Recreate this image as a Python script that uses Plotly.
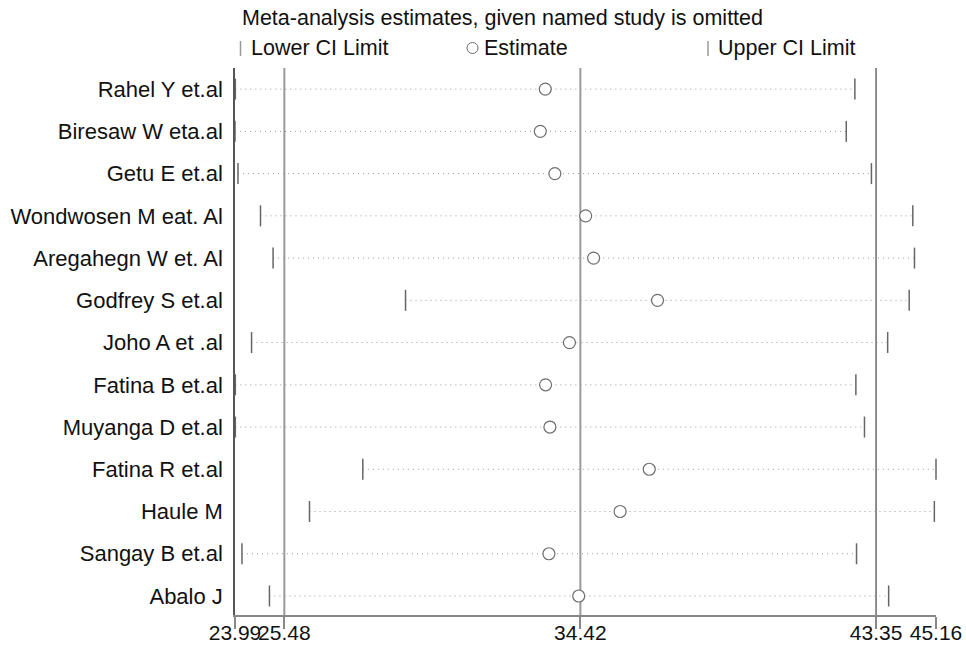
import plotly.graph_objects as go

# Leave-one-out meta-analysis: pooled estimate with each named study omitted
studies = [
    "Rahel Y et.al", "Biresaw W eta.al", "Getu E et.al", "Wondwosen M eat. Al",
    "Aregahegn W et. Al", "Godfrey S et.al", "Joho A et .al", "Fatina B et.al",
    "Muyanga D et.al", "Fatina R et.al", "Haule M", "Sangay B et.al", "Abalo J",
]
lower_ci = [24.00, 23.99, 24.08, 24.76, 25.14, 29.14, 24.49, 24.00, 24.00, 27.85, 26.24, 24.20, 25.03]
estimate = [33.36, 33.21, 33.65, 34.58, 34.82, 36.75, 34.09, 33.37, 33.50, 36.50, 35.62, 33.47, 34.37]
upper_ci = [42.71, 42.45, 43.21, 44.46, 44.51, 44.35, 43.70, 42.74, 43.00, 45.16, 45.11, 42.76, 43.73]

# Overall pooled result (all studies)
overall_lower = 25.48
overall_est = 34.42
overall_upper = 43.35

tick_vals = [min(lower_ci), overall_lower, overall_est, overall_upper, max(upper_ci)]
tick_text = ["23.99", "25.48", "34.42", "43.35", "45.16"]

FONT = "Liberation Sans, Arial, sans-serif"
W, H = 966, 649
L, R, T, B = 235, 30, 68, 34
PW, PH = W - L - R, H - T - B


def px_x(xp):
    return (xp - L) / PW


def px_y(yp):
    return (H - B - yp) / PH


fig = go.Figure()

# dotted CI lines
xs, ys = [], []
for s, lo, up in zip(studies, lower_ci, upper_ci):
    xs += [lo, up, None]
    ys += [s, s, None]
fig.add_trace(go.Scatter(
    x=xs, y=ys, mode="lines",
    line=dict(color="#9a9a9a", width=1, dash="1px,4px"),
    hoverinfo="skip", showlegend=False,
))

# CI limit ticks
fig.add_trace(go.Scatter(
    x=lower_ci, y=studies, mode="markers", name="Lower CI Limit",
    marker=dict(symbol="line-ns", size=15, line=dict(color="#666666", width=1.5)),
    cliponaxis=False, showlegend=False,
))
fig.add_trace(go.Scatter(
    x=upper_ci, y=studies, mode="markers", name="Upper CI Limit",
    marker=dict(symbol="line-ns", size=15, line=dict(color="#666666", width=1.5)),
    cliponaxis=False, showlegend=False,
))

# estimates
fig.add_trace(go.Scatter(
    x=estimate, y=studies, mode="markers", name="Estimate",
    marker=dict(symbol="circle", size=12, color="white",
                line=dict(color="#6e6e6e", width=1.2)),
    cliponaxis=False, showlegend=False,
))

# overall reference lines
for v, col, w in [(overall_lower, "#9a9a9a", 2), (overall_est, "#9a9a9a", 2), (overall_upper, "#6a6a6a", 1.5)]:
    fig.add_shape(type="line", xref="x", yref="paper", x0=v, x1=v, y0=0, y1=1,
                  line=dict(color=col, width=w), layer="below")

# title and key
fig.add_annotation(xref="paper", yref="paper", x=px_x(240), y=px_y(18),
                   xanchor="left", yanchor="middle", showarrow=False,
                   text="Meta-analysis estimates, given named study is omitted",
                   font=dict(family=FONT, size=21.5, color="#111111"))
key_y = px_y(48)
for sym_x, txt_x, label in [(240.5, 249, "Lower CI Limit"), (472.5, 482, "Estimate"), (708, 716, "Upper CI Limit")]:
    fig.add_annotation(xref="paper", yref="paper", x=px_x(txt_x), y=key_y,
                       xanchor="left", yanchor="middle", showarrow=False, text=label,
                       font=dict(family=FONT, size=21.5, color="#111111"))
    if label == "Estimate":
        fig.add_shape(type="circle", xref="paper", yref="paper",
                      x0=px_x(sym_x - 5.5), x1=px_x(sym_x + 5.5),
                      y0=px_y(48 + 5.5), y1=px_y(48 - 5.5),
                      line=dict(color="#6e6e6e", width=1))
    else:
        fig.add_shape(type="line", xref="paper", yref="paper",
                      x0=px_x(sym_x), x1=px_x(sym_x),
                      y0=px_y(56), y1=px_y(41),
                      line=dict(color="#999999", width=1.5))

fig.update_layout(
    width=W, height=H,
    margin=dict(l=L, r=R, t=T, b=B, pad=0, autoexpand=False),
    plot_bgcolor="white", paper_bgcolor="white",
    font=dict(family=FONT, size=21, color="#111111"),
    xaxis=dict(
        range=[tick_vals[0], tick_vals[-1]], automargin=False,
        tickmode="array", tickvals=tick_vals, ticktext=tick_text, tickangle=0,
        ticks="outside", ticklen=12, tickwidth=1.5, tickcolor="#888888",
        showline=True, linecolor="#888888", linewidth=1.5,
        showgrid=False, zeroline=False, ticklabelstandoff=-14,
        tickfont=dict(family=FONT, size=21, color="#111111"),
    ),
    yaxis=dict(
        type="category", categoryorder="array", categoryarray=studies[::-1],
        range=[-0.45, 12.5], automargin=False,
        showline=True, linecolor="#555555", linewidth=1.5,
        ticks="", showgrid=False, zeroline=False, ticklabelstandoff=6,
        tickfont=dict(family=FONT, size=22, color="#111111"),
    ),
)

fig.write_html("out.html")
